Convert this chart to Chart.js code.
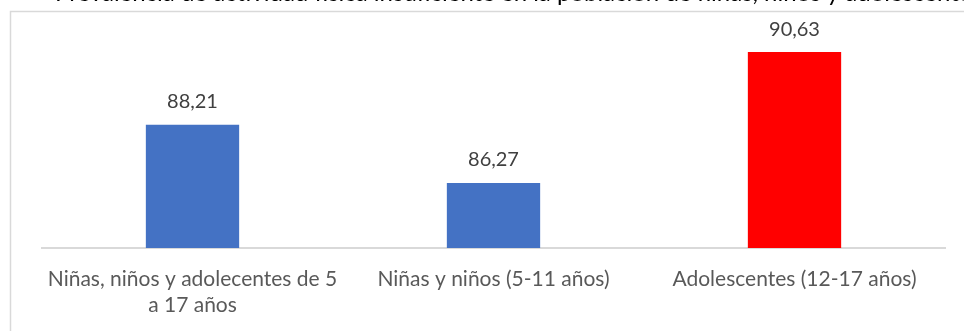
<!DOCTYPE html>
<html lang="es">
<head>
<meta charset="utf-8">
<script src="https://cdn.jsdelivr.net/npm/chart.js@4/dist/chart.umd.min.js"></script>
<style>
  html, body { margin: 0; padding: 0; background: #fff; }
  #wrap { width: 964px; height: 331px; position: relative; }
</style>
</head>
<body>
<div id="wrap"><canvas id="chart"></canvas></div>
<script>
const categories = [
    ['Niñas, niños y adolecentes de 5', 'a 17 años'],
    'Niñas y niños (5-11 años)',
    'Adolescentes (12-17 años)'
];
const values = [88.21, 86.27, 90.63];
const barColors = ['#4472c4', '#4472c4', '#ff0000'];
const titleText = 'Prevalencia de actividad física insuficiente en la población de niñas, niños y adolescentes';

const FONT = 'Lato, "Open Sans", sans-serif';

// frame around the chart plus the title line, mostly above the canvas edge
const framePlugin = {
    id: 'frame',
    beforeDraw(chart) {
        const ctx = chart.ctx;
        ctx.save();
        ctx.fillStyle = '#fff';
        ctx.fillRect(0, 0, chart.width, chart.height);
        ctx.strokeStyle = '#d9d9d9';
        ctx.lineWidth = 1.5;
        ctx.strokeRect(10.5, 11.5, chart.width + 20, chart.height + 20);
        ctx.fillStyle = '#000';
        ctx.font = '24px ' + FONT;
        ctx.textBaseline = 'alphabetic';
        ctx.fillText(titleText, 55, 1);
        ctx.restore();
    }
};

// value labels above each bar, decimal comma
const valueLabels = {
    id: 'valueLabels',
    afterDatasetsDraw(chart) {
        const ctx = chart.ctx;
        const meta = chart.getDatasetMeta(0);
        ctx.save();
        ctx.font = '20px ' + FONT;
        ctx.fillStyle = '#404040';
        ctx.textAlign = 'center';
        ctx.textBaseline = 'middle';
        meta.data.forEach((bar, i) => {
            const txt = values[i].toFixed(2).replace('.', ',');
            ctx.fillText(txt, bar.x, bar.y - 23);
        });
        ctx.restore();
    }
};

new Chart(document.getElementById('chart'), {
    type: 'bar',
    data: {
        labels: categories,
        datasets: [{
            data: values,
            backgroundColor: barColors,
            barPercentage: 0.31,
            categoryPercentage: 1
        }]
    },
    options: {
        responsive: true,
        maintainAspectRatio: false,
        animation: false,
        layout: { padding: { top: 41, left: 42, right: 19, bottom: 0 } },
        plugins: {
            legend: { display: false },
            tooltip: { enabled: false }
        },
        scales: {
            x: {
                grid: { display: false, drawTicks: false },
                border: { color: '#d9d9d9', width: 2 },
                ticks: {
                    color: '#595959',
                    font: { family: FONT, size: 21, lineHeight: 1.2 },
                    padding: 19,
                    maxRotation: 0,
                    autoSkip: false
                },
                afterFit(scale) { scale.height = 83; }
            },
            y: {
                display: false,
                min: 84.1,
                max: 91
            }
        }
    },
    plugins: [framePlugin, valueLabels]
});
</script>
</body>
</html>
